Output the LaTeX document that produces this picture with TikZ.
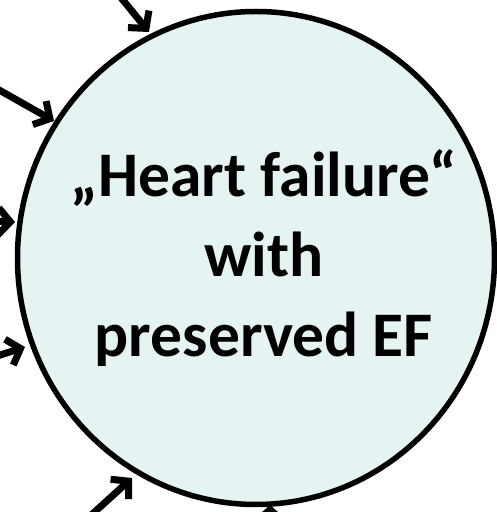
\documentclass[tikz,border=0pt]{standalone}
\usepackage{fontspec}
\setmainfont{Carlito}
\usetikzlibrary{shapes.geometric,arrows.meta}
\definecolor{hfFill}{RGB}{230,243,243}
\begin{document}
\begin{tikzpicture}[x=1pt,y=1pt,
  hfellipse/.style={ellipse, draw=black, line width=5.5pt, fill=hfFill,
    minimum width=477pt, minimum height=493pt, inner sep=0pt},
  hflabel/.style={align=center, font=\fontsize{63.5}{80}\selectfont\bfseries},
  cause/.style={line width=7pt, -{Straight Barb[length=12pt,width=27pt,line width=7pt]}}]
\useasboundingbox (0,0) rectangle (497,512);
% central condition
\node[hfellipse] (hf) at (256,254) {};
% the base anchor of the three-line label sits on its last baseline
\node[hflabel, anchor=base] (txt) at (264,155) {„Heart failure“\\with\\preserved EF};
% incoming influences: tails outside the frame, tips on the outline
\coordinate (t1) at (118,518);  \coordinate (h1) at (149,480);
\coordinate (t2) at (-8,426);   \coordinate (h2) at (54,391);
\coordinate (t3) at (-12,291);  \coordinate (h3) at (15,290);
\coordinate (t4) at (-12,153);  \coordinate (h4) at (25,165);
\coordinate (t5) at (88,-6);    \coordinate (h5) at (132,34);
\coordinate (t6) at (270,-30);  \coordinate (h6) at (270,7);
\foreach \i in {1,...,6} { \draw[cause] (t\i) -- (h\i); }
\end{tikzpicture}
\end{document}
